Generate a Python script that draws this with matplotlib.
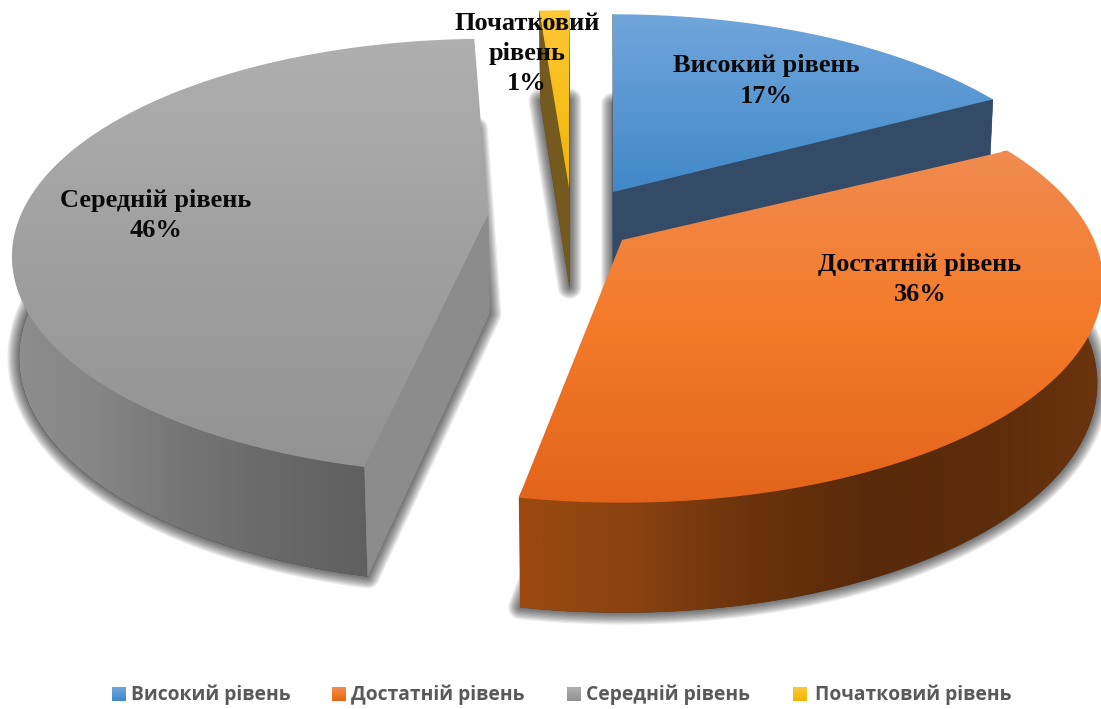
import numpy as np
import matplotlib
matplotlib.use("Agg")
import matplotlib.pyplot as plt
from matplotlib.patches import Polygon
from matplotlib.colors import LinearSegmentedColormap

# ---- data ----
categories = ["Високий рівень", "Достатній рівень", "Середній рівень", "Початковий рівень"]
shares = [17, 36, 46, 1]
slice_labels = ["Високий рівень\n17%", "Достатній рівень\n36%", "Середній рівень\n46%", "Початковий\nрівень\n1%"]

# ---- styling / layout ----
W, H = 1101, 709
apex = [(613, 192), (622, 240), (488, 215), (569, 188)]
radius = [1.0, 1.0, 0.99, 1.0]
nudge_start = [0, 1.5, 1.6, -0.7]
nudge_end = [0.3, -0.6, 1.6, 0]
label_x_c = [766, 920, 156, 527]
label_base = [72, 271, 207, 30]
label_pitch = [31, 30, 30, 30]
top_cols = [("#72a7dc", "#3f87c8"),
            ("#f08c52", "#f47a28", "#e2631a"),
            ("#b0b0b0", "#a0a0a0", "#929292"),
            ("#ffc837", "#eeb600")]
top_span = [(8, 198), (140, 510), (30, 480), (4, 196)]
face_cols = ["#344b68", "#7d3c10", "#8c8c8c", "#755a20"]
show_start_face = [True, False, True, True]
show_end_face = [True, False, False, True]
rim_stops = [
    ["#344b68", "#2e4360"],
    ["#9c4a10", "#8a4210", "#6b330c", "#592a0a", "#5c2c0a", "#6a340e"],
    ["#8e8e8e", "#858585", "#747474", "#686868", "#5f5f5f"],
    ["#755a20", "#755a20"],
]
rim_span = [(600, 1000), (515, 1101), (10, 372), (530, 575)]
R, R2, K = 472.0, 212.0, 0.193
DEPTH, KD, VX, VF = 99.0, 0.1, 620.0, 0.988


def top_pt(theta, cx, cy, r=1.0):
    x, y = r * np.sin(theta), r * np.cos(theta)
    w = 1 + K * y
    return cx + R * x / w, cy - R2 * y / w


def bot_pt(theta, cx, cy, r=1.0):
    sx, sy = top_pt(theta, cx, cy, r)
    w = 1 + KD * r * np.cos(theta)
    return VX + (sx - VX) * VF, sy + DEPTH / w


def grad(ax, path_xy, cols, span, vertical, z):
    cmap = LinearSegmentedColormap.from_list("g", cols)
    g = np.linspace(0, 1, 256)
    if vertical:
        img = g[:, None]
        ext = (0, W, span[1], span[0])
    else:
        img = g[None, :]
        ext = (span[0], span[1], H, 0)
    im = ax.imshow(img, cmap=cmap, extent=ext, aspect="auto", zorder=z, interpolation="bilinear")
    clip = Polygon(path_xy, closed=True, transform=ax.transData, fc="none", ec="none")
    ax.add_patch(clip)
    im.set_clip_path(clip)


fig = plt.figure(figsize=(W / 100, H / 100), dpi=100)
ax = fig.add_axes([0, 0, 1, 1])
ax.set_axis_off()

bounds = np.cumsum([0] + shares) / sum(shares) * 2 * np.pi
draw_order = [0, 3, 2, 1]
z = 1.0
for i in draw_order:
    a0 = bounds[i] + np.radians(nudge_start[i])
    a1 = bounds[i + 1] + np.radians(nudge_end[i])
    th = np.linspace(a0, a1, 240)
    cx, cy = apex[i]
    tx, ty = top_pt(th, cx, cy, radius[i])
    ix, iy = top_pt(th, cx, cy, radius[i] * 0.985)
    bx, by = bot_pt(th, cx, cy, radius[i])
    ax0, ay0 = top_pt(0.0, cx, cy, 0.0)
    bx0, by0 = bot_pt(0.0, cx, cy, 0.0)

    # soft shadow: blurred silhouette of the bottom surface
    floor = np.column_stack([np.r_[bx0, bx], np.r_[by0, by]])
    for lw in np.linspace(17, 1, 10):
        ax.add_patch(Polygon(floor, closed=True, fc="#222222", ec="#222222", lw=lw,
                             alpha=0.09, joinstyle="round", zorder=z))
    z += 1

    # outer rim (its upper edge tucks under the top surface to avoid a seam)
    rim = np.column_stack([np.r_[tx[0], ix, tx[-1], bx[::-1]],
                           np.r_[ty[0], iy, ty[-1], by[::-1]]])
    grad(ax, rim, rim_stops[i], rim_span[i], False, z)
    z += 1

    # cut faces
    for k, flag in ((0, show_start_face[i]), (-1, show_end_face[i])):
        if flag:
            face = [(ax0, ay0), (tx[k], ty[k]), (bx[k], by[k]), (bx0, by0)]
            ax.add_patch(Polygon(face, closed=True, fc=face_cols[i], ec=face_cols[i], lw=0.4, zorder=z))
    z += 1

    # top surface
    top = np.column_stack([np.r_[ax0, tx], np.r_[ay0, ty]])
    grad(ax, top, top_cols[i], top_span[i], True, z)
    z += 1

for txt, x, base, pitch in zip(slice_labels, label_x_c, label_base, label_pitch):
    for n, line in enumerate(txt.split("\n")):
        ax.text(x, base + n * pitch, line, ha="center", va="baseline", family="Liberation Serif",
                weight="bold", fontsize=19.0, color="#0a0a0a", zorder=100)

# legend
swatch_x = [112, 332, 567, 793]
label_x = [131, 351, 586, 815]
leg_y = 694
for x0, lx, name, cols in zip(swatch_x, label_x, categories, top_cols):
    grad(ax, [(x0, leg_y - 7), (x0 + 14, leg_y - 7), (x0 + 14, leg_y + 7), (x0, leg_y + 7)],
         cols, (leg_y - 7, leg_y + 7), True, 101)
    ax.text(lx, leg_y + 6, name, ha="left", va="baseline", family="Open Sans", weight="bold",
            fontsize=13.9, color="#595959", zorder=102)

ax.set_xlim(0, W)
ax.set_ylim(H, 0)
fig.savefig("out.png", dpi=100, facecolor="white")
